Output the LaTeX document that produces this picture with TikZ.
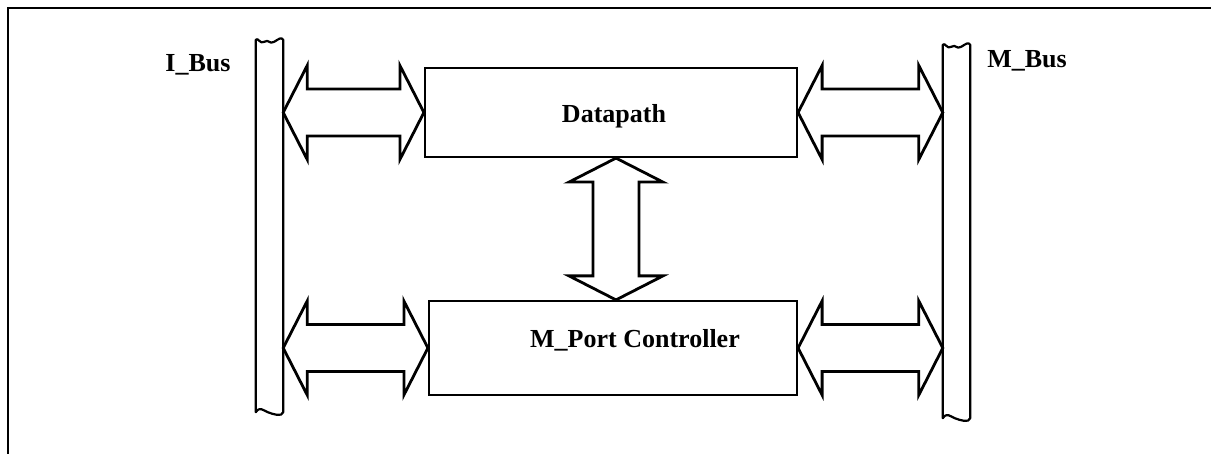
\documentclass[tikz,border=0pt]{standalone}
\usepackage{fontspec}
\setmainfont{Liberation Serif}
\usetikzlibrary{calc}
\newcommand\hdarr[2]{%
  \draw[arr] let \p1=(#1), \p2=(#2) in
    (\p1) -- (\x1+24pt,\y1+47pt) -- (\x1+24pt,\y1+23.5pt) -- (\x2-24pt,\y1+23.5pt)
    -- (\x2-24pt,\y1+47pt) -- (\x2,\y1) -- (\x2-24pt,\y1-47pt) -- (\x2-24pt,\y1-23.5pt)
    -- (\x1+24pt,\y1-23.5pt) -- (\x1+24pt,\y1-47pt) -- cycle;}
\newcommand\vdarr[2]{%
  \draw[arr] let \p1=(#1), \p2=(#2) in
    (\p1) -- (\x1+47pt,\y1-24pt) -- (\x1+23pt,\y1-24pt) -- (\x1+23pt,\y2+24pt)
    -- (\x1+47pt,\y2+24pt) -- (\x1,\y2) -- (\x1-47pt,\y2+24pt) -- (\x1-23pt,\y2+24pt)
    -- (\x1-23pt,\y1-24pt) -- (\x1-47pt,\y1-24pt) -- cycle;}
\begin{document}
\begin{tikzpicture}[x=1pt,y=-1pt,
  box/.style={draw, line width=2.2pt, inner sep=0pt},
  busnode/.style={inner sep=0pt, minimum width=27pt},
  busline/.style={line width=2.2pt, line join=round},
  arr/.style={line width=2.8pt, line join=miter, miter limit=10},
  lbl/.style={font=\fontsize{26}{30}\selectfont\bfseries, inner sep=0pt, anchor=base},
  frame/.style={line width=2pt}]
\useasboundingbox (0,0) rectangle (1211,454);
% frame (open to the right and bottom)
\coordinate (fb) at (8,454);
\coordinate (ftl) at (8,8);
\coordinate (fr) at (1211,8);
\draw[frame] (fb) -- (ftl) -- (fr);
% boxes
\node[box, minimum width=372pt, minimum height=89pt] (dp) at (611,112.5) {};
\node[box, minimum width=368pt, minimum height=94pt] (mpc) at (613,348) {};
\node[lbl] (dpt) at (614,123) {Datapath};
\node[lbl] (mpct) at (635,348) {M\_Port Controller};
% buses
\node[busnode, minimum height=372pt] (ibus) at (269.5,226) {};
\node[busnode, minimum height=373pt] (mbus) at (956.5,231.5) {};
\node[lbl] (ibust) at (198,72) {I\_Bus};
\node[lbl] (mbust) at (1027,68) {M\_Bus};
\draw[busline] (ibus.north west) -- (ibus.south west)
  .. controls +(4,-6) and +(-5,-2) .. ++(12,0)
  .. controls +(5,2) and +(-1,5) .. (ibus.south east)
  -- (ibus.north east)
  .. controls +(-2,-3) and +(5,-3) .. ++(-9,2)
  .. controls +(-5,3) and +(5,-3) .. ++(-10,0)
  .. controls +(-4,3) and +(2,-3) .. cycle;
\draw[busline] (mbus.north west) -- (mbus.south west)
  .. controls +(4,-6) and +(-5,-2) .. ++(12,0)
  .. controls +(5,2) and +(-1,5) .. (mbus.south east)
  -- (mbus.north east)
  .. controls +(-2,-3) and +(5,-3) .. ++(-9,2)
  .. controls +(-5,3) and +(5,-3) .. ++(-10,0)
  .. controls +(-4,3) and +(2,-3) .. cycle;
% arrows
\hdarr{ibus.east |- dp.west}{dp.west}
\hdarr{dp.east}{mbus.west |- dp.east}
\hdarr{ibus.east |- mpc.west}{mpc.west}
\hdarr{mpc.east}{mbus.west |- mpc.east}
\coordinate (vt) at ($(dp.south)+(5,0)$);
\coordinate (vb) at (vt |- mpc.north);
\vdarr{vt}{vb}
\end{tikzpicture}
\end{document}
